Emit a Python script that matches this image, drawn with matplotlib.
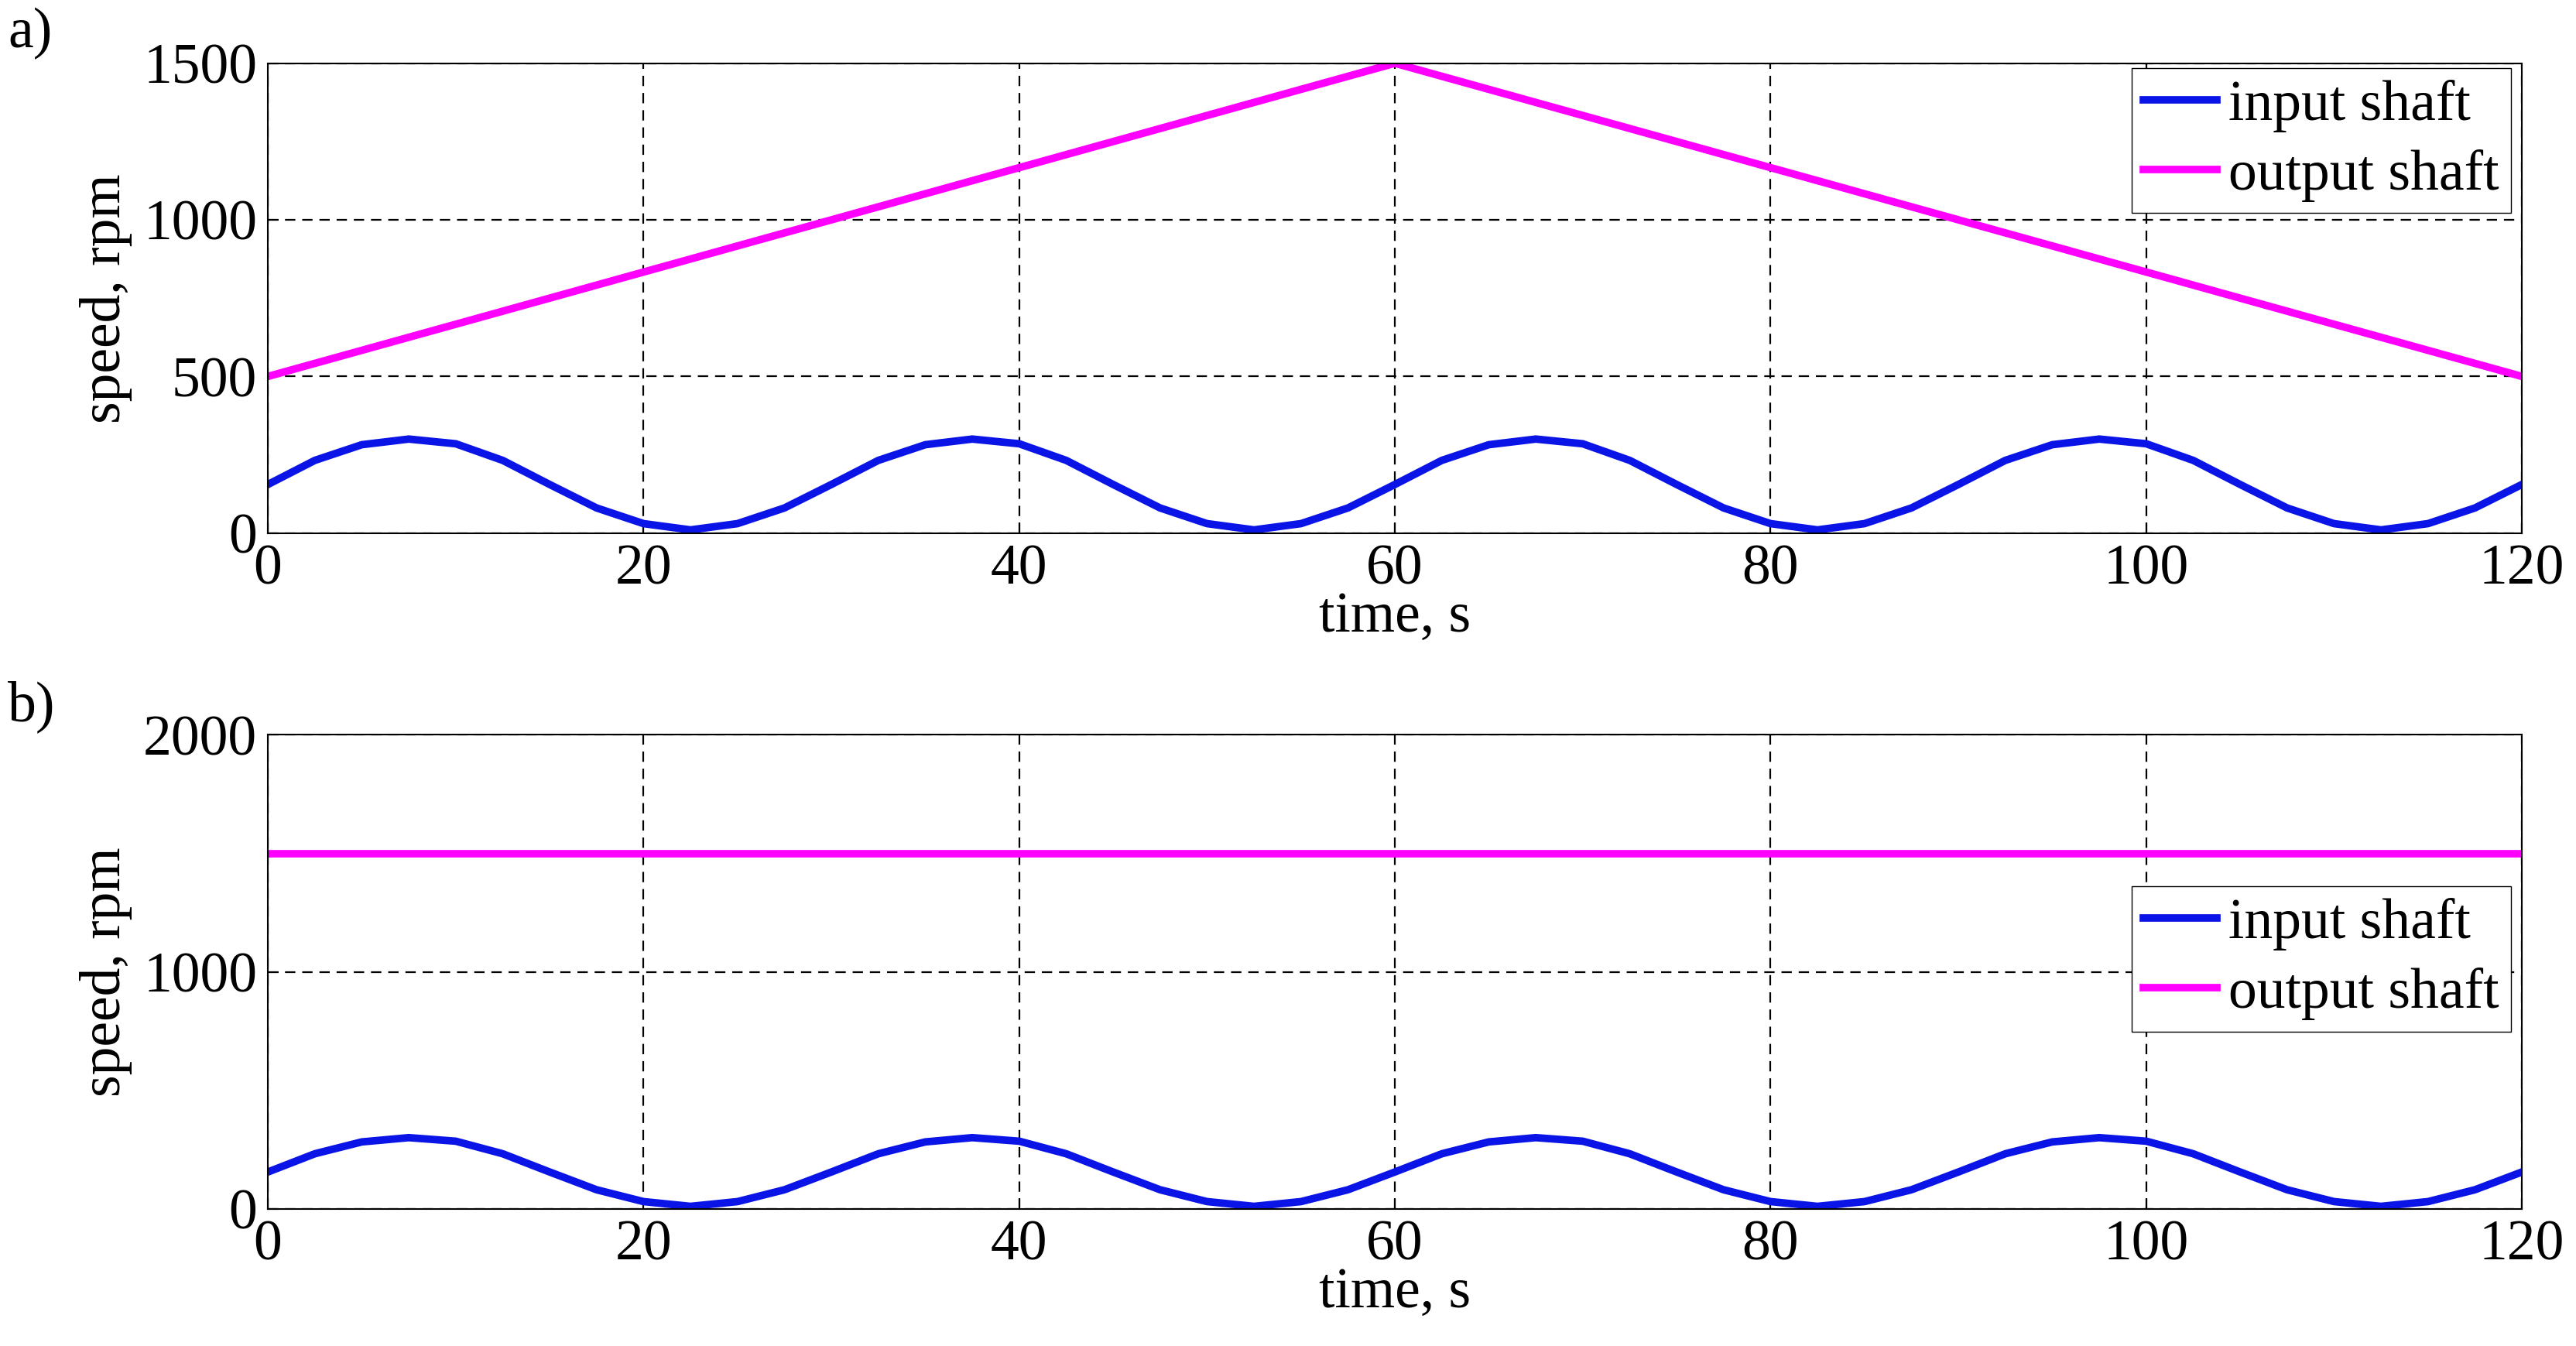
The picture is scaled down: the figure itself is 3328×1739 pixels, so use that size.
import matplotlib.pyplot as plt

plt.rcParams["font.family"] = ["Liberation Serif", "DejaVu Serif"]
plt.rcParams["font.size"] = 53

# time axis of the input-shaft trace, s
time_input = [i * 2.5 for i in range(49)]
# one period (30 s), repeated over 120 s
period_vals = [155, 232, 282, 300, 285, 232, 155, 80, 30, 10, 30, 80]
input_speed = (period_vals * 4) + [155]

time_output_a = [0, 60, 120]
output_speed_a = [500, 1500, 500]

time_output_b = [0, 120]
output_speed_b = [1500, 1500]

BLUE = "#0a14e6"
MAGENTA = "#ff00ff"

fig = plt.figure(figsize=(33.28, 17.39), dpi=100)
ax1 = fig.add_axes([0.104, 0.604, 0.875, 0.349])
ax2 = fig.add_axes([0.104, 0.102, 0.875, 0.352])


def style(ax, ylim, yticks):
    ax.set_xlim(0, 120)
    ax.set_ylim(*ylim)
    ax.set_xticks(range(0, 121, 20))
    ax.set_yticks(yticks)
    ax.grid(True, color="black", linestyle=(0, (6, 4)), linewidth=1.6)
    ax.set_xlabel("time, s", labelpad=-4)
    ax.set_ylabel("speed, rpm", labelpad=10)
    ax.tick_params(direction="in", length=10, width=1.5, pad=10)
    for s in ax.spines.values():
        s.set_linewidth(1.5)


ax1.plot(time_input, input_speed, color=BLUE, lw=7, label="input shaft")
ax1.plot(time_output_a, output_speed_a, color=MAGENTA, lw=7, label="output shaft")
style(ax1, (0, 1500), [0, 500, 1000, 1500])
ax1.legend(loc="upper right", fancybox=False, edgecolor="black", framealpha=1,
           handlelength=1.3, handletextpad=0.2, borderpad=0.2, labelspacing=0.3,
           borderaxespad=0.0, bbox_to_anchor=(0.995, 0.99))

ax2.plot(time_input, input_speed, color=BLUE, lw=7, label="input shaft")
ax2.plot(time_output_b, output_speed_b, color=MAGENTA, lw=7, label="output shaft")
style(ax2, (0, 2000), [0, 1000, 2000])
ax2.legend(loc="upper right", fancybox=False, edgecolor="black", framealpha=1,
           handlelength=1.3, handletextpad=0.2, borderpad=0.2, labelspacing=0.3,
           borderaxespad=0.0, bbox_to_anchor=(0.995, 0.68))

fig.text(0.003, 0.975, "a)", va="center", ha="left")
fig.text(0.003, 0.475, "b)", va="center", ha="left")

fig.savefig("out.png", dpi=100)
